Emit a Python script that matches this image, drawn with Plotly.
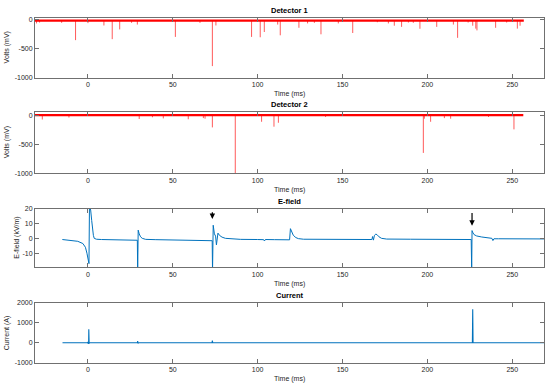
import plotly.graph_objects as go
from plotly.subplots import make_subplots

# ---------------- data ----------------
x_ticks = [0, 50, 100, 150, 200, 250]

det1_start, det1_end = -31.2, 256.8
det1_base = -12
det1_spike_t = [-30.3, -28.5, -15.5, -7.3, 0.0, 9.4, 14.3, 18.7, 25.7, 29.1, 51.5, 66.0, 73.3, 75.4,
                96.4, 101.5, 103.9, 111.8, 113.3, 124.3, 129.4, 133.4, 137.3, 147.5, 156.0, 170.5,
                177.0, 180.5, 184.8, 188.8, 191.7, 195.6, 205.5, 215.3, 217.8, 224.0, 226.7, 228.5,
                229.2, 240.2, 246.7, 253.0, 254.6]
det1_spike_v = [-60, -45, -50, -350, -55, -96, -333, -164, -50, -80, -294, -50, -800, -96,
                -294, -300, -209, -80, -266, -136, -60, -50, -249, -60, -226, -40,
                -60, -100, -120, -45, -50, -153, -120, -80, -310, -45, -100, -150,
                -181, -136, -45, -150, -100]

det2_start, det2_end = -31.2, 256.5
det2_base = 2
det2_spike_t = [-26.9, -11.2, 30.2, 38.0, 44.4, 59.1, 68.0, 69.0, 73.3, 86.8, 102.3, 109.6, 112.2,
                140.0, 197.6, 198.2, 201.9, 210.0, 213.7, 236.0, 251.0]
det2_spike_v = [-74, -40, -65, -35, -55, -70, -50, -60, -210, -1100, -113, -198, -130,
                -30, -650, -60, -113, -50, -60, -30, -244]

efield_t = [-15.1, -10, -6, -3, -1.5, -0.6, 0.3, 0.6, 0.9, 1.6, 2.2, 2.7, 3.2, 3.7, 5, 8, 15,
            28.8, 29.1, 29.3, 29.6, 30.2, 31, 32, 34, 40, 55, 72.9, 73.2, 73.4, 73.8, 74.5,
            75.2, 75.7, 76.1, 76.6, 77.5, 79, 81, 85, 90, 100, 103.5, 104, 104.5, 110,
            118.8, 119.3, 120, 121, 122.5, 124, 127, 140, 160, 167.3, 167.7, 168.2, 168.8,
            169.6, 170.3, 171.5, 173, 176, 190, 210, 225.8, 226.1, 226.3, 226.6, 227.5, 229,
            232, 235, 238, 238.6, 239.2, 242, 250, 260, 268.7]
efield_v = [-0.8, -1.2, -2, -3.5, -6, -10, -17, -17, 22, 19, 12, 6, 2, 0, -0.6, -0.8, -0.9,
            -1.2, -1.3, -22, 5.5, 3, 1, 0, -0.7, -0.9, -1.2, -1.5, -1.6, -22, 8.8, 3,
            1.5, -4.4, 1, 3.5, 2, 0.8, 0, -0.5, -0.7, -0.8, -0.9, -1.8, -0.8, -0.9,
            -1, 6.5, 4, 2, 0.5, -0.2, -0.6, -0.7, -0.8, -0.8, 1.2, -1.2, 2,
            2.8, 2.5, 1, 0, -0.5, -0.6, -0.7, -0.8, -22, 5.2, 4.2, 2.5, 1.6,
            0.9, 0.4, 0, -1.5, -0.3, -0.3, -0.3, -0.4, -0.4]

current_t = [-15, -0.2, 0.0, 0.2, 0.4, 0.5, 0.7, 0.9, 29.1, 29.3, 29.5, 29.7, 73.1, 73.3, 73.5,
             226.5, 226.7, 226.9, 268.7]
current_v = [0, 0, 40, -60, 0, 670, -40, 0, 0, 80, -40, 0, 0, 100, 0,
             0, 1670, 0, 0]

arrow_t = [73.3, 226.3]
arrow_head = [13.0, 8.5]
arrow_tail = [18.5, 18.0]

titles = ["Detector 1", "Detector 2", "E-field", "Current"]
ytitles = ["Volts (mV)", "Volts (mV)", "E-field (kV/m)", "Current (A)"]
yticks = [[-1000, -500, 0], [-1000, -500, 0], [-10, 0, 10, 20], [-1000, 0, 1000, 2000]]
yranges = [[-1000, 38], [-1000, 55], [-19.6, 20], [-1000, 2000]]
xrange_ = [-31.2, 268.7]

# ---------------- figure ----------------
W, H = 550, 391
fig = make_subplots(rows=4, cols=1)

def spikes(ts, vs, base):
    xs, ys = [], []
    for t, v in zip(ts, vs):
        xs += [t, t, None]
        ys += [base, v, None]
    return xs, ys

RED = "rgb(255,0,0)"
BLUE = "#0072BD"

for r, (ts, vs, base, s, e) in enumerate(
        [(det1_spike_t, det1_spike_v, det1_base, det1_start, det1_end),
         (det2_spike_t, det2_spike_v, det2_base, det2_start, det2_end)], start=1):
    sx, sy = spikes(ts, vs, base)
    fig.add_trace(go.Scatter(x=sx, y=sy, mode="lines",
                             line=dict(color="rgba(255,0,0,0.65)", width=1),
                             hoverinfo="skip", showlegend=False), row=r, col=1)
    fig.add_trace(go.Scatter(x=[s, e], y=[base, base], mode="lines",
                             line=dict(color=RED, width=2.4),
                             showlegend=False), row=r, col=1)

fig.add_trace(go.Scatter(x=efield_t, y=efield_v, mode="lines",
                         line=dict(color=BLUE, width=1), showlegend=False), row=3, col=1)
fig.add_trace(go.Scatter(x=current_t, y=current_v, mode="lines",
                         line=dict(color=BLUE, width=1.1), showlegend=False), row=4, col=1)

# panel boxes in pixels (top, bottom)
L, R = 35, 544
boxes = [(14, 75), (110, 172.3), (208.3, 268.3), (304, 365.3)]

AX = "#707070"
TXT = "#262626"
FONT = "Liberation Sans, Arial, sans-serif"

annotations = []
for i, (top, bot) in enumerate(boxes):
    n = "" if i == 0 else str(i + 1)
    dom_y = [1 - bot / H, 1 - top / H]
    fig.layout["xaxis" + n].update(
        domain=[L / W, R / W], range=xrange_, tickvals=x_ticks,
        ticktext=[str(v) for v in x_ticks],
        ticks="inside", ticklen=4, tickcolor=AX, showline=True, linecolor=AX,
        linewidth=1, mirror="ticks", showgrid=False, zeroline=False,
        tickfont=dict(size=7, color=TXT, family=FONT))
    fig.layout["yaxis" + n].update(
        domain=dom_y, range=yranges[i], tickvals=yticks[i],
        ticktext=[str(v) for v in yticks[i]],
        ticks="inside", ticklen=4, tickcolor=AX, showline=True, linecolor=AX,
        linewidth=1, mirror="ticks", showgrid=False, zeroline=False,
        tickfont=dict(size=7, color=TXT, family=FONT))
    cx = (L + R) / 2 / W
    annotations.append(dict(text="<b>" + titles[i] + "</b>", xref="paper", yref="paper",
                            x=cx, y=1 - (top - 7.5) / H, showarrow=False,
                            xanchor="center", yanchor="middle",
                            font=dict(size=7.5, color="black", family=FONT)))
    annotations.append(dict(text="Time (ms)", xref="paper", yref="paper",
                            x=cx, y=1 - (bot + 17) / H, showarrow=False,
                            xanchor="center", yanchor="middle",
                            font=dict(size=7, color=TXT, family=FONT)))
    ytx = 16.7 if i == 2 else 6.7
    annotations.append(dict(text=ytitles[i], xref="paper", yref="paper",
                            x=ytx / W, y=1 - (top + bot) / 2 / H, showarrow=False,
                            textangle=-90, xanchor="center", yanchor="middle",
                            font=dict(size=7, color=TXT, family=FONT)))

for t, hd, tl in zip(arrow_t, arrow_head, arrow_tail):
    annotations.append(dict(x=t, y=hd, ax=t, ay=tl, xref="x3", yref="y3",
                            axref="x3", ayref="y3", text="", showarrow=True,
                            arrowhead=2, arrowsize=0.9, arrowwidth=1.2,
                            arrowcolor="black"))

fig.update_layout(width=W, height=H, margin=dict(l=0, r=0, t=0, b=0),
                  paper_bgcolor="white", plot_bgcolor="white",
                  annotations=annotations, showlegend=False,
                  font=dict(family=FONT))

fig.write_html("out.html", config={"displayModeBar": False},
               post_script="document.body.style.margin='0';document.body.style.padding='0';")
